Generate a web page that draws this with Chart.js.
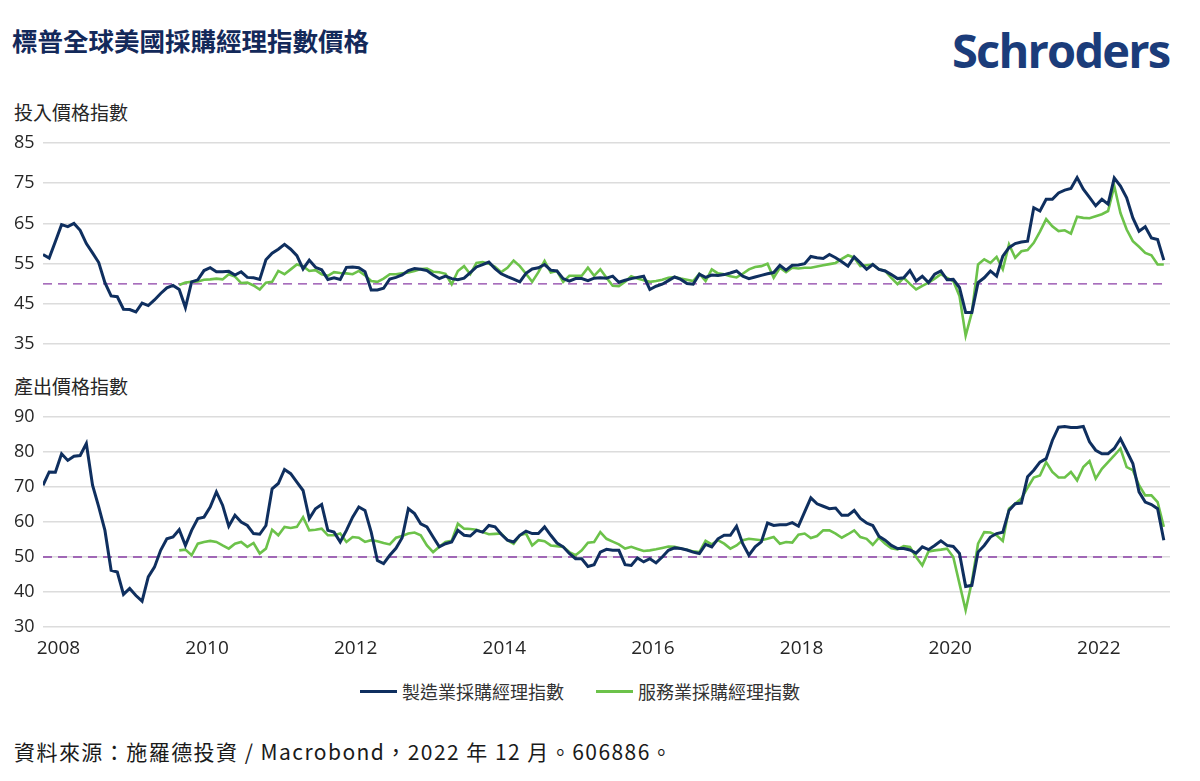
<!DOCTYPE html>
<html>
<head>
<meta charset="utf-8">
<script src="https://cdn.jsdelivr.net/npm/chart.js@4.4.1/dist/chart.umd.min.js"></script>
<style>
  body { margin: 0; width: 1200px; height: 781px; background: #fff; position: relative; overflow: hidden;
         font-family: "Open Sans", "Noto Sans CJK TC", sans-serif; color: #262626; }
  .abs { position: absolute; white-space: nowrap; }
  #title { left: 12px; top: 21px; font-size: 25.5px; font-weight: 700; color: #13295a; font-family: "Noto Sans CJK TC", sans-serif; }
  #logo { left: 952px; top: 18px; font-size: 47px; font-weight: 700; color: #1b3c7a; letter-spacing: -1.8px; font-family: "Open Sans", sans-serif; }
  .panel { left: 14px; font-size: 19px; color: #262626; font-family: "Noto Sans CJK TC", sans-serif; }
  #legend { left: 360px; top: 678px; font-size: 18px; display: flex; align-items: center; color: #333; font-family: "Noto Sans CJK TC", sans-serif; }
  #legend .item { display: flex; align-items: center; }
  #legend .swatch { width: 37px; height: 3px; margin-right: 5px; }
  #source { left: 14px; top: 736px; font-size: 21px; letter-spacing: 1.45px; color: #1a1a1a; font-family: "Noto Sans CJK TC", sans-serif; }
  canvas { position: absolute; left: 0; }
</style>
</head>
<body>
<div id="title" class="abs">標普全球美國採購經理指數價格</div>
<div id="logo" class="abs">Schroders</div>
<div class="abs panel" style="top:98px">投入價格指數</div>
<canvas id="inputChart" width="1200" height="230" style="top:125px"></canvas>
<div class="abs panel" style="top:372px">產出價格指數</div>
<canvas id="outputChart" width="1200" height="270" style="top:395px"></canvas>
<div id="legend" class="abs">
  <div class="item"><div class="swatch" style="background:#0f2f5f"></div>製造業採購經理指數</div>
  <div class="item" style="margin-left:32px"><div class="swatch" style="background:#6cc24a"></div>服務業採購經理指數</div>
</div>
<div id="source" class="abs">資料來源：施羅德投資 / Macrobond，2022 年 12 月。606886。</div>

<script>
// Monthly readings; manufacturing starts Oct 2007, services Aug 2009, both end Nov 2022
const mfgStart = -3;   // months from Jan 2008
const svcStart = 19;

const mfgInput = [57.3,56.4,60.5,64.7,64.2,65.0,63.3,60.0,57.7,55.3,
  50.3,47.0,46.8,43.7,43.6,43.0,45.2,44.6,46.0,47.6,
  49.0,49.6,48.6,44.1,50.5,51.0,53.3,54.0,53.0,53.0,
  53.1,52.2,53.0,51.6,51.5,51.1,56.0,57.6,58.6,59.8,
  58.6,57.0,53.7,55.9,54.1,53.5,51.1,51.5,51.1,54.1,
  54.2,54.0,53.0,48.5,48.5,48.9,51.2,51.6,52.2,53.3,
  53.8,53.6,53.3,52.2,51.3,51.9,51.3,51.0,51.4,52.8,
  54.2,54.8,55.4,53.8,52.5,51.8,51.2,50.5,52.6,53.7,
  54.0,54.8,53.4,53.2,51.3,50.7,51.3,51.3,50.8,51.4,
  51.5,51.4,51.9,50.4,50.9,51.3,51.6,51.9,48.6,49.4,
  49.9,50.8,51.7,51.1,50.1,49.9,52.4,51.6,52.2,52.1,
  52.3,52.7,53.2,51.9,51.3,51.7,52.1,52.5,52.8,54.6,
  53.4,54.6,54.7,55.0,56.8,56.5,56.3,57.3,56.5,55.5,
  54.4,56.7,55.2,53.6,54.8,53.6,53.2,52.3,51.3,51.5,
  53.3,50.7,51.9,50.3,52.4,53.2,51.0,51.1,49.1,42.9,
  42.9,50.3,51.5,53.2,51.9,56.9,59.0,60.0,60.4,60.6,
  68.9,68.1,71.0,71.0,72.6,73.3,73.7,76.4,73.5,71.5,
  69.4,71.0,69.8,76.3,74.3,71.4,66.4,63.1,64.2,61.4,
  61.0,55.9];

const svcInput = [49.7,50.3,50.5,50.6,51.0,51.1,51.3,51.1,52.4,51.8,
  50.2,50.3,49.6,48.6,50.3,50.5,53.2,52.4,53.6,54.8,
  54.4,53.2,53.4,52.4,52.0,52.9,52.7,52.6,52.4,53.2,
  52.1,50.7,50.5,51.3,52.4,52.4,52.6,52.8,53.2,53.7,
  53.8,53.0,52.9,52.5,49.9,53.2,54.4,52.4,55.2,55.4,
  55.0,54.2,52.9,54.0,55.8,54.4,52.5,50.5,52.9,55.7,
  52.8,53.2,50.5,52.0,52.0,52.0,54.0,52.0,53.6,51.5,
  49.5,49.4,50.5,51.9,51.3,50.9,50.5,50.7,51.0,51.5,
  51.7,51.3,51.0,50.7,52.5,50.7,53.6,52.6,52.4,51.9,
  51.6,52.5,53.6,54.2,54.4,55.0,51.5,54.0,52.9,54.0,
  53.8,54.0,54.0,54.3,54.6,54.9,55.2,56.2,57.1,56.5,
  54.4,54.6,54.8,53.6,53.2,51.5,49.9,51.5,50.0,48.6,
  49.5,50.3,51.3,52.4,51.5,50.7,47.0,37.1,42.9,54.8,
  56.1,55.2,56.7,53.6,59.8,56.5,58.1,58.4,60.2,63.0,
  66.1,64.3,63.1,63.3,62.5,66.7,66.4,66.3,66.8,67.3,
  68.1,74.3,67.6,63.5,60.6,59.2,57.7,57.1,54.8,54.8];

const mfgOutput = [70.5,74.3,74.2,79.5,77.6,78.8,79.0,82.4,70.5,64.3,
  57.6,46.2,45.7,39.3,41.0,39.0,37.4,44.3,47.1,51.9,
  55.2,55.7,57.8,53.3,57.6,61.0,61.4,64.3,68.6,64.8,
  58.8,61.9,60.0,59.0,56.7,56.5,59.0,69.5,71.0,75.0,
  73.8,71.4,69.0,61.0,63.8,65.0,57.6,57.1,54.3,57.6,
  61.4,64.3,63.3,57.1,49.0,48.1,50.5,52.5,55.5,63.8,
  62.4,59.5,58.6,55.7,52.9,53.8,54.3,57.6,56.2,56.0,
  57.6,57.1,59.0,58.6,56.5,54.8,54.3,56.2,57.4,56.7,
  56.7,58.6,56.2,54.0,52.9,51.0,49.5,49.5,47.3,47.8,
  51.4,52.2,51.9,51.9,47.8,47.6,49.7,48.6,49.5,48.3,
  50.0,51.9,52.6,52.4,52.0,51.4,51.0,53.6,52.9,55.2,
  56.2,56.2,58.8,53.8,50.5,52.9,54.3,59.7,59.0,59.2,
  59.2,59.8,58.8,62.9,66.9,65.2,64.5,63.8,64.0,61.9,
  61.9,63.3,61.0,59.7,59.0,55.9,54.8,53.3,52.4,52.4,
  52.0,51.1,52.9,52.1,53.3,54.6,53.3,53.0,51.0,41.6,
  41.9,51.4,53.3,55.7,56.7,57.1,63.3,65.2,65.4,72.9,
  74.8,77.1,78.1,83.3,87.1,87.3,87.0,87.0,87.3,82.9,
  80.5,79.5,79.5,81.0,83.8,80.3,76.7,68.6,65.7,65.0,
  63.8,54.8];

const svcOutput = [51.9,52.1,50.5,53.8,54.3,54.6,54.3,53.3,52.4,53.8,
  54.3,52.9,54.0,51.0,52.4,57.8,56.2,58.6,58.3,58.6,
  61.4,57.6,57.8,58.1,56.2,56.2,56.7,54.3,55.7,55.5,
  54.3,54.8,54.5,54.0,53.6,55.5,56.0,56.7,57.0,56.2,
  53.3,51.4,52.9,54.3,54.6,59.5,58.1,58.0,57.8,57.1,
  56.5,56.6,56.7,54.8,53.8,56.2,56.7,53.3,54.8,54.5,
  53.3,53.1,52.9,51.4,50.5,51.9,54.1,54.3,57.1,55.2,
  54.4,53.6,52.4,52.9,52.3,51.7,51.9,52.2,52.6,53.0,
  52.9,52.4,52.1,51.6,51.4,54.6,53.6,54.8,53.8,52.4,
  53.3,54.8,55.2,55.0,54.8,55.2,55.7,53.8,54.3,54.1,
  56.4,56.7,55.4,56.0,57.6,57.6,56.7,55.5,56.5,57.6,
  55.7,55.2,53.5,55.5,53.8,52.5,52.2,53.1,52.9,50.0,
  47.6,51.6,51.9,52.1,52.4,50.0,42.4,34.8,42.9,53.8,
  57.1,57.0,56.2,54.6,63.8,65.2,66.7,69.8,72.7,73.3,
  77.1,74.3,72.7,72.7,74.3,71.9,75.7,77.4,72.4,75.2,
  77.1,79.0,81.0,75.7,74.8,70.5,67.6,67.6,65.7,58.6];

const yearLabels = [2008, 2010, 2012, 2014, 2016, 2018, 2020, 2022];
const inputTicks = [35, 45, 55, 65, 75, 85];
const outputTicks = [30, 40, 50, 60, 70, 80, 90];
const refLevel = 50;

const mfgColor = '#0f2f5f';
const svcColor = '#6cc24a';
const xMin = mfgStart + 0.5;
const xMax = mfgStart + mfgInput.length + 0.5;

// plot each month at its middle
function toPoints(values, start) {
  return values.map((v, i) => ({ x: start + i + 0.5, y: v }));
}

function makeChart(id, mfg, svc, yTicks, showX, pad) {
  return new Chart(document.getElementById(id), {
    type: 'line',
    data: {
      datasets: [
        { data: toPoints(mfg, mfgStart), borderColor: mfgColor, borderWidth: 3, order: 0 },
        { data: toPoints(svc, svcStart), borderColor: svcColor, borderWidth: 2.6, order: 1 },
        { data: [{ x: xMin, y: refLevel }, { x: xMax - 1, y: refLevel }], borderColor: '#8b3fa6',
          borderWidth: 1.4, borderDash: [9, 6], order: 2 }
      ]
    },
    options: {
      responsive: false,
      animation: false,
      events: [],
      layout: { padding: pad },
      elements: { point: { radius: 0 }, line: { tension: 0, fill: false } },
      plugins: { legend: { display: false }, tooltip: { enabled: false } },
      scales: {
        x: {
          type: 'linear',
          min: xMin,
          max: xMax,
          display: showX,
          grid: { display: false },
          border: { display: false },
          afterBuildTicks: s => { s.ticks = yearLabels.map(y => ({ value: (y - 2008) * 12 })); },
          afterFit: s => { s.height = showX ? 38 : 0; },
          ticks: {
            autoSkip: false,
            maxRotation: 0,
            padding: 2,
            color: '#262626',
            font: { family: 'Open Sans', size: 19 },
            callback: v => 2008 + v / 12
          }
        },
        y: {
          min: yTicks[0],
          max: yTicks[yTicks.length - 1],
          afterBuildTicks: s => { s.ticks = yTicks.map(v => ({ value: v })); },
          afterFit: s => { s.width = 29; },
          grid: { color: '#dcdcdc', lineWidth: 1.6, drawTicks: false },
          border: { display: false },
          ticks: {
            crossAlign: 'far',
            padding: 0,
            color: '#262626',
            font: { family: 'Open Sans', size: 18 }
          }
        }
      }
    }
  });
}

makeChart('inputChart', mfgInput, svcInput, inputTicks, false, { left: 14, right: 30, top: 18, bottom: 10 });
makeChart('outputChart', mfgOutput, svcOutput, outputTicks, true, { left: 14, right: 30, top: 22, bottom: 0 });
</script>
</body>
</html>
